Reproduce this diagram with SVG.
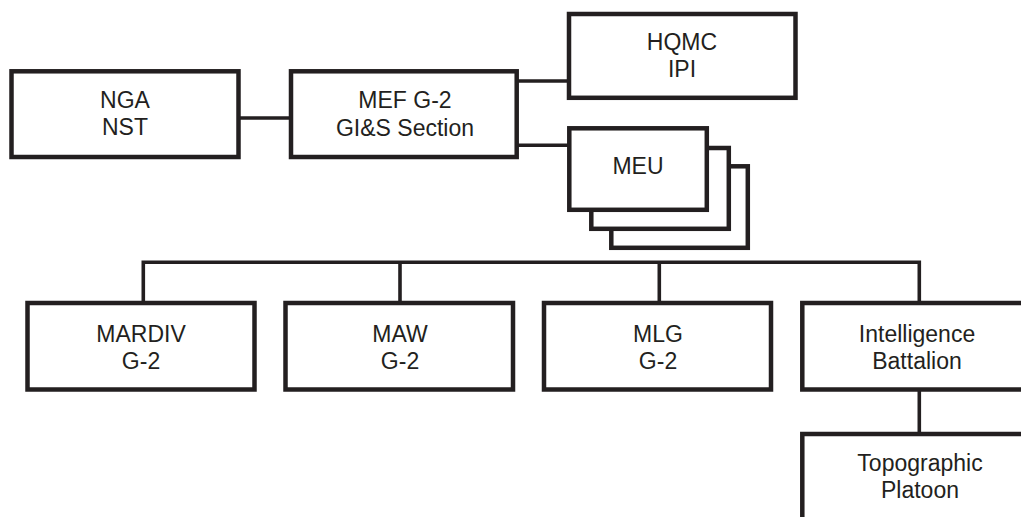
<svg xmlns="http://www.w3.org/2000/svg" width="1021" height="517" viewBox="0 0 1021 517">
<style>
.box{fill:#fff;stroke:#231f20;stroke-width:4.5}
.con{fill:none;stroke:#231f20;stroke-width:3.6}
text{font-family:"Liberation Sans",Arial,sans-serif;font-size:23px;fill:#231f20;text-anchor:middle}
</style>
<rect width="1021" height="517" fill="#fff"/>
<g id="connectors">
<line class="con" x1="240" y1="118" x2="290" y2="118"/>
<line class="con" x1="518" y1="81" x2="568" y2="81"/>
<line class="con" x1="518" y1="145.3" x2="568" y2="145.3"/>
<polyline class="con" points="143.3,302 143.3,262.3 919.3,262.3 919.3,302"/>
<line class="con" x1="400" y1="262.3" x2="400" y2="302"/>
<line class="con" x1="659.3" y1="262.3" x2="659.3" y2="302"/>
<line class="con" x1="919.3" y1="390" x2="919.3" y2="433"/>
</g>
<g id="nga">
<rect class="box" x="11.5" y="71.3" width="227" height="85.7"/>
<text x="125" y="107.5">NGA</text>
<text x="125" y="135">NST</text>
</g>
<g id="mef">
<rect class="box" x="291" y="71.3" width="225.7" height="85.7"/>
<text x="405" y="107.5">MEF G-2</text>
<text x="405" y="135.5">GI&amp;S Section</text>
</g>
<g id="hqmc">
<rect class="box" x="569" y="14" width="226.5" height="83.8"/>
<text x="682" y="49.5">HQMC</text>
<text x="682" y="77">IPI</text>
</g>
<g id="meu">
<rect class="box" x="611.3" y="166.3" width="136.5" height="81.5"/>
<rect class="box" x="591.3" y="148" width="137.5" height="80.8"/>
<rect class="box" x="569.3" y="128.3" width="137.5" height="81.5"/>
<text x="638" y="173.5">MEU</text>
</g>
<g id="mardiv">
<rect class="box" x="27.5" y="303" width="227" height="86.5"/>
<text x="141" y="341.5">MARDIV</text>
<text x="141" y="369">G-2</text>
</g>
<g id="maw">
<rect class="box" x="285.5" y="303" width="227.5" height="86.5"/>
<text x="400" y="341.5">MAW</text>
<text x="400" y="369">G-2</text>
</g>
<g id="mlg">
<rect class="box" x="544" y="303" width="227" height="86.5"/>
<text x="658" y="341.5">MLG</text>
<text x="658" y="369">G-2</text>
</g>
<g id="intel">
<rect class="box" x="802.3" y="303" width="232" height="86.5"/>
<text x="917" y="341.5">Intelligence</text>
<text x="917" y="369">Battalion</text>
</g>
<g id="topo">
<rect class="box" x="802.3" y="434" width="240" height="100"/>
<text x="920" y="470.5">Topographic</text>
<text x="920" y="498">Platoon</text>
</g>
</svg>
